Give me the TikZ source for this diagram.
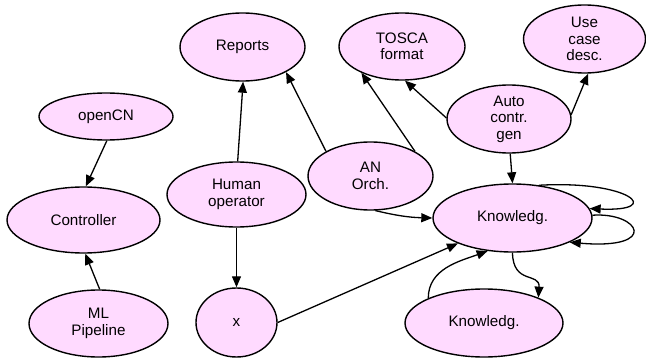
\documentclass[tikz,border=0pt]{standalone}
\usepackage{fontspec}
\setmainfont{Liberation Sans}
\usetikzlibrary{shapes.geometric,arrows.meta}
\definecolor{nodefill}{RGB}{255,218,255}
\begin{document}
\begin{tikzpicture}[x=1pt,y=-1pt,
  oval/.style={ellipse,draw,fill=nodefill,line width=1.4pt,inner sep=0pt,
    align=center,font=\fontsize{15.2}{16.5}\selectfont},
  link/.style={line width=1.3pt,-{Triangle[length=11pt,width=9pt]}}]
\useasboundingbox (0,0) rectangle (646,361);

% nodes
\node[oval,minimum width=125pt,minimum height=68pt] (reports) at (242.5,47) {Reports};
\node[oval,minimum width=126pt,minimum height=67pt] (tosca) at (402,46.5) {TOSCA\\format};
\node[oval,minimum width=122pt,minimum height=68pt] (usecase) at (584.5,39) {Use\\case\\desc.};
\node[oval,minimum width=134pt,minimum height=47pt] (opencn) at (106,116.5) {openCN};
\node[oval,minimum width=124pt,minimum height=68pt] (auto) at (509,119) {Auto\\contr.\\gen};
\node[oval,minimum width=125pt,minimum height=68pt] (anorch) at (370.5,176) {AN\\Orch.};
\node[oval,minimum width=139pt,minimum height=65pt] (human) at (236.5,194.5) {Human\\operator};
\node[oval,minimum width=153pt,minimum height=66pt] (controller) at (83.5,220) {Controller};
\node[oval,minimum width=159pt,minimum height=68pt] (know) at (512.5,218) {Knowledg.};
\node[oval,minimum width=139pt,minimum height=67pt] (mlpipe) at (98.5,323.5) {ML\\Pipeline};
\node[oval,minimum width=81pt,minimum height=69pt] (x) at (236.5,322.5) {x};
\node[oval,minimum width=158pt,minimum height=68pt] (know2) at (484,323) {Knowledg.};

% connectors
\draw[link] (opencn.-88) -- (controller.86);
\draw[link] (mlpipe.88) -- (controller.-87);
\draw[link] (human.88) -- (reports.-89);
\draw[link] (human.-90) -- (x.90);
\draw[link] (anorch.151) -- (reports.-30);
\draw[link] (anorch.29) -- (tosca.-147);
\draw[link] (anorch.-82) to[bend right=6] (know.180);
\draw[link] (auto.179) -- (tosca.-85);
\draw[link] (auto.4) -- (usecase.-84);
\draw[link] (auto.-88) -- (know.90);
\draw[link] (x.0) -- (know.205);
\draw[link] (know2.156) to[out=90,in=200] (know.-127);
\draw[link] (know.-90) .. controls (513,285) and (540,272) .. (know2.25);
\draw[link] (know.51) .. controls (630,180) and (665,212) .. (know.7);
\draw[link] (know.2) .. controls (640,212) and (660,250) .. (know.-23);
\end{tikzpicture}
\end{document}
